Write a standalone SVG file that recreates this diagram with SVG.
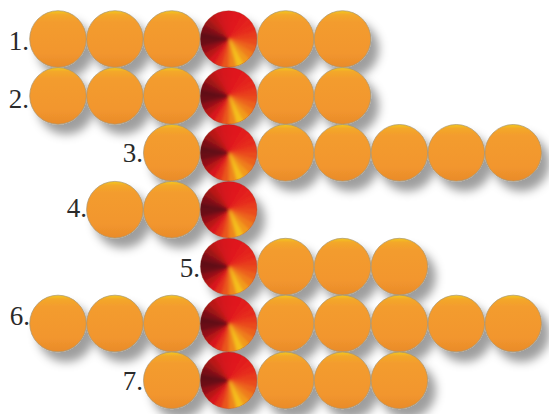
<svg xmlns="http://www.w3.org/2000/svg" xmlns:xlink="http://www.w3.org/1999/xlink" width="549" height="414" viewBox="0 0 549 414">
<style>
.lbl{font-family:"Liberation Serif","Times New Roman",serif;font-size:27px;font-weight:normal;fill:#2a2a2a;text-anchor:end}
.w{stroke-width:0.8}
</style>
<defs>
<filter id="sh" x="-10%" y="-40%" width="125%" height="200%">
<feGaussianBlur in="SourceAlpha" stdDeviation="5"/>
<feOffset dx="8" dy="10" result="b"/>
<feFlood flood-color="#000" flood-opacity="0.38"/>
<feComposite in2="b" operator="in"/>
<feMerge><feMergeNode/><feMergeNode in="SourceGraphic"/></feMerge>
</filter>
<filter id="bl" x="-20%" y="-20%" width="140%" height="140%">
<feGaussianBlur stdDeviation="1.6"/>
</filter>
<clipPath id="rc"><circle r="28.3"/></clipPath>
<linearGradient id="og" x1="0" y1="0" x2="0" y2="1">
<stop offset="0" stop-color="#F3C81E"/>
<stop offset="0.07" stop-color="#F3A82A"/>
<stop offset="0.2" stop-color="#F39C2E"/>
<stop offset="0.75" stop-color="#F2962E"/>
<stop offset="1" stop-color="#E98B2A"/>
</linearGradient>
<circle id="ob" r="28.3" fill="url(#og)" stroke="#A89470" stroke-width="0.7"/>
<g id="rb">
<g clip-path="url(#rc)">
<g filter="url(#bl)">
<g transform="scale(1.15)">
<path class="w" fill="#DE151D" stroke="#DE151D" d="M0 0L0 -28.5A28.5 28.5 0 0 1 7.38 -27.53Z"/>
<path class="w" fill="#E0181D" stroke="#E0181D" d="M0 0L7.38 -27.53A28.5 28.5 0 0 1 14.25 -24.68Z"/>
<path class="w" fill="#E21C1C" stroke="#E21C1C" d="M0 0L14.25 -24.68A28.5 28.5 0 0 1 20.15 -20.15Z"/>
<path class="w" fill="#E4221C" stroke="#E4221C" d="M0 0L20.15 -20.15A28.5 28.5 0 0 1 24.68 -14.25Z"/>
<path class="w" fill="#E62C1C" stroke="#E62C1C" d="M0 0L24.68 -14.25A28.5 28.5 0 0 1 27.53 -7.38Z"/>
<path class="w" fill="#E83A1D" stroke="#E83A1D" d="M0 0L27.53 -7.38A28.5 28.5 0 0 1 28.5 0Z"/>
<path class="w" fill="#EA4C1E" stroke="#EA4C1E" d="M0 0L28.5 0A28.5 28.5 0 0 1 27.53 7.38Z"/>
<path class="w" fill="#EC621E" stroke="#EC621E" d="M0 0L27.53 7.38A28.5 28.5 0 0 1 24.68 14.25Z"/>
<path class="w" fill="#EF7C1E" stroke="#EF7C1E" d="M0 0L24.68 14.25A28.5 28.5 0 0 1 20.15 20.15Z"/>
<path class="w" fill="#F29A1D" stroke="#F29A1D" d="M0 0L20.15 20.15A28.5 28.5 0 0 1 14.25 24.68Z"/>
<path class="w" fill="#F4C01B" stroke="#F4C01B" d="M0 0L14.25 24.68A28.5 28.5 0 0 1 7.38 27.53Z"/>
<path class="w" fill="#EE861E" stroke="#EE861E" d="M0 0L7.38 27.53A28.5 28.5 0 0 1 0 28.5Z"/>
<path class="w" fill="#EA561E" stroke="#EA561E" d="M0 0L0 28.5A28.5 28.5 0 0 1 -7.38 27.53Z"/>
<path class="w" fill="#E4301C" stroke="#E4301C" d="M0 0L-7.38 27.53A28.5 28.5 0 0 1 -14.25 24.68Z"/>
<path class="w" fill="#D8181C" stroke="#D8181C" d="M0 0L-14.25 24.68A28.5 28.5 0 0 1 -20.15 20.15Z"/>
<path class="w" fill="#B81318" stroke="#B81318" d="M0 0L-20.15 20.15A28.5 28.5 0 0 1 -24.68 14.25Z"/>
<path class="w" fill="#921015" stroke="#921015" d="M0 0L-24.68 14.25A28.5 28.5 0 0 1 -27.53 7.38Z"/>
<path class="w" fill="#6C1013" stroke="#6C1013" d="M0 0L-27.53 7.38A28.5 28.5 0 0 1 -28.5 0Z"/>
<path class="w" fill="#600E12" stroke="#600E12" d="M0 0L-28.5 0A28.5 28.5 0 0 1 -27.53 -7.38Z"/>
<path class="w" fill="#7A1014" stroke="#7A1014" d="M0 0L-27.53 -7.38A28.5 28.5 0 0 1 -24.68 -14.25Z"/>
<path class="w" fill="#9C1216" stroke="#9C1216" d="M0 0L-24.68 -14.25A28.5 28.5 0 0 1 -20.15 -20.15Z"/>
<path class="w" fill="#BA1418" stroke="#BA1418" d="M0 0L-20.15 -20.15A28.5 28.5 0 0 1 -14.25 -24.68Z"/>
<path class="w" fill="#CE141A" stroke="#CE141A" d="M0 0L-14.25 -24.68A28.5 28.5 0 0 1 -7.38 -27.53Z"/>
<path class="w" fill="#D8141C" stroke="#D8141C" d="M0 0L-7.38 -27.53A28.5 28.5 0 0 1 0 -28.5Z"/>
</g>
</g>
</g>
<circle r="28.3" fill="none" stroke="#8a3a20" stroke-width="0.5" stroke-opacity="0.6"/>
</g>
</defs>
<rect width="549" height="414" fill="#fff"/>

<g id="row1">
<g filter="url(#sh)">
<use href="#ob" x="58" y="39"/><use href="#ob" x="114.9" y="39"/><use href="#ob" x="171.8" y="39"/><use href="#rb" x="228.7" y="39"/><use href="#ob" x="285.6" y="39"/><use href="#ob" x="342.5" y="39"/>
</g>
<text class="lbl" x="29" y="50">1.</text>
</g>

<g id="row2">
<g filter="url(#sh)">
<use href="#ob" x="58" y="95.9"/><use href="#ob" x="114.9" y="95.9"/><use href="#ob" x="171.8" y="95.9"/><use href="#rb" x="228.7" y="95.9"/><use href="#ob" x="285.6" y="95.9"/><use href="#ob" x="342.5" y="95.9"/>
</g>
<text class="lbl" x="29" y="108">2.</text>
</g>

<g id="row3">
<g filter="url(#sh)">
<use href="#ob" x="171.8" y="152.8"/><use href="#rb" x="228.7" y="152.8"/><use href="#ob" x="285.6" y="152.8"/><use href="#ob" x="342.5" y="152.8"/><use href="#ob" x="399.4" y="152.8"/><use href="#ob" x="456.3" y="152.8"/><use href="#ob" x="513.2" y="152.8"/>
</g>
<text class="lbl" x="143" y="162">3.</text>
</g>

<g id="row4">
<g filter="url(#sh)">
<use href="#ob" x="114.9" y="209.7"/><use href="#ob" x="171.8" y="209.7"/><use href="#rb" x="228.7" y="209.7"/>
</g>
<text class="lbl" x="87" y="217">4.</text>
</g>

<g id="row5">
<g filter="url(#sh)">
<use href="#rb" x="228.7" y="266.6"/><use href="#ob" x="285.6" y="266.6"/><use href="#ob" x="342.5" y="266.6"/><use href="#ob" x="399.4" y="266.6"/>
</g>
<text class="lbl" x="200" y="277">5.</text>
</g>

<g id="row6">
<g filter="url(#sh)">
<use href="#ob" x="58" y="323.5"/><use href="#ob" x="114.9" y="323.5"/><use href="#ob" x="171.8" y="323.5"/><use href="#rb" x="228.7" y="323.5"/><use href="#ob" x="285.6" y="323.5"/><use href="#ob" x="342.5" y="323.5"/><use href="#ob" x="399.4" y="323.5"/><use href="#ob" x="456.3" y="323.5"/><use href="#ob" x="513.2" y="323.5"/>
</g>
<text class="lbl" x="30" y="325">6.</text>
</g>

<g id="row7">
<g filter="url(#sh)">
<use href="#ob" x="171.8" y="380.4"/><use href="#rb" x="228.7" y="380.4"/><use href="#ob" x="285.6" y="380.4"/><use href="#ob" x="342.5" y="380.4"/><use href="#ob" x="399.4" y="380.4"/>
</g>
<text class="lbl" x="143" y="390">7.</text>
</g>
</svg>
